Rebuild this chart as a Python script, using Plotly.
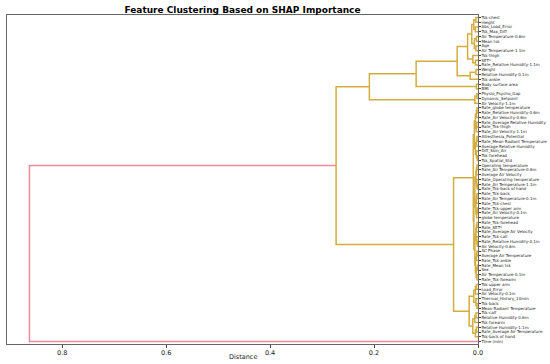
import plotly.graph_objects as go

labels = [
    "Tsk-chest", "Height", "Abs_Load_Error", "Tsk_Max_Diff", "Air Temperature-0.6m",
    "Mean tsk", "Age", "Air Temperature-1.1m", "Tsk-thigh", "SET*",
    "Rate_Relative Humidity-1.1m", "Weight", "Relative Humidity-0.1m", "Tsk-ankle",
    "Body surface area", "BMI", "Physio_Psycho_Gap", "Dynamic_Setpoint",
    "Air Velocity-1.1m", "Rate_globe temperature", "Rate_Relative Humidity-0.6m",
    "Rate_Air Velocity-0.6m", "Rate_Average Relative Humidity", "Rate_Tsk-thigh",
    "Rate_Air Velocity-1.1m", "Alliesthesia_Potential", "Rate_Mean Radiant Temperature",
    "Average Relative Humidity", "Diff_Skin_Air", "Tsk-forehead", "Tsk_Spatial_Std",
    "Operating temperature", "Rate_Air Temperature-0.6m", "Average Air Velocity",
    "Rate_Operating temperature", "Rate_Air Temperature-1.1m", "Rate_Tsk-back of hand",
    "Rate_Tsk-back", "Rate_Air Temperature-0.1m", "Rate_Tsk-chest", "Rate_Tsk-upper arm",
    "Rate_Air Velocity-0.1m", "globe temperature", "Rate_Tsk-forehead", "Rate_SET*",
    "Rate_Average Air Velocity", "Rate_Tsk-calf", "Rate_Relative Humidity-0.1m",
    "Air Velocity-0.6m", "AC Phase", "Average Air Temperature", "Rate_Tsk-ankle",
    "Rate_Mean tsk", "Sex", "Air Temperature-0.1m", "Rate_Tsk-forearm", "Tsk-upper arm",
    "Load_Error", "Air Velocity-0.1m", "Thermal_History_10min", "Tsk-back",
    "Mean Radiant Temperature", "Tsk-calf", "Relative Humidity-0.6m", "Tsk-forearm",
    "Relative Humidity-1.1m", "Rate_Average Air Temperature", "Tsk-back of hand", "Time (min)",
]

# merge distance between each pair of neighbouring leaves (top to bottom)
gap_distance = [
    0.004, 0.008, 0.005, 0.012, 0.003, 0.007, 0.004, 0.020, 0.010, 0.005,
    0.040, 0.004, 0.015, 0.119, 0.003, 0.209, 0.002, 0.006, 0.273,
    0.002, 0.003, 0.005, 0.0025, 0.0035, 0.007, 0.002, 0.003, 0.005, 0.003, 0.0015,
    0.009,
    0.002, 0.003, 0.004, 0.0025, 0.0015, 0.006, 0.002, 0.003, 0.004, 0.0015, 0.0025,
    0.008,
    0.002, 0.003, 0.004, 0.0025, 0.0015, 0.006, 0.002, 0.003, 0.005, 0.0015, 0.0035, 0.002,
    0.047,
    0.003, 0.005, 0.008, 0.004, 0.002, 0.017, 0.004, 0.006, 0.010, 0.003, 0.005,
    0.863,
]

color_threshold = 0.7 * max(gap_distance)
GOLD = "#d4ad3f"
RED = "#f4899c"

n = len(labels)
leaf_y = [5 + 10 * (n - 1 - i) for i in range(n)]

seg = {GOLD: ([], []), RED: ([], [])}


def build(lo, hi):
    """returns (y_center, height) of the subtree spanning leaves lo..hi"""
    if lo == hi:
        return leaf_y[lo], 0.0
    k = max(range(lo, hi), key=lambda j: gap_distance[j])
    h = gap_distance[k]
    ya, ha = build(lo, k)
    yb, hb = build(k + 1, hi)
    col = RED if h > color_threshold else GOLD
    xs, ys = seg[col]
    xs += [ha, h, h, hb, None]
    ys += [ya, ya, yb, yb, None]
    return (ya + yb) / 2, h


build(0, n - 1)

fig = go.Figure()
for col, (xs, ys) in seg.items():
    fig.add_trace(go.Scatter(x=xs, y=ys, mode="lines", line=dict(color=col, width=1.5),
                             hoverinfo="skip", showlegend=False))

xmax = max(gap_distance) * 1.05
fig.update_layout(
    width=550, height=364,
    margin=dict(l=7, r=72, t=15, b=20),
    paper_bgcolor="white", plot_bgcolor="white",
    font=dict(family="DejaVu Sans", color="#222"),
    title=dict(text="<b>Feature Clustering Based on SHAP Importance</b>",
               x=0.5, xref="paper", y=1 - 9.5 / 364, yref="container", yanchor="middle",
               font=dict(size=9, family="DejaVu Sans", color="black")),
    xaxis=dict(range=[xmax, 0], showgrid=False, zeroline=False, automargin=False,
               tickvals=[0.8, 0.6, 0.4, 0.2, 0.0], ticktext=["0.8", "0.6", "0.4", "0.2", "0.0"],
               ticks="outside", ticklen=2.5, tickwidth=0.8, tickcolor="#444",
               tickfont=dict(size=6.5, color="#222"),
               showline=True, linecolor="#666", linewidth=1.2, mirror=True),
    yaxis=dict(range=[0, 10 * n], side="right", showgrid=False, zeroline=False, automargin=False,
               tickvals=leaf_y, ticktext=labels, ticks="outside", ticklen=1.5,
               tickwidth=0.5, tickcolor="#444",
               tickfont=dict(size=4.0, color="#222"),
               showline=True, linecolor="#666", linewidth=1.2, mirror=True),
    annotations=[dict(text="Distance", x=0.5, xref="paper", y=-13 / 329, yref="paper",
                      yanchor="middle", showarrow=False, font=dict(size=6.5, color="#222"))],
)

fig.write_html(
    "out.html",
    config={"displayModeBar": False},
    post_script="document.body.style.margin='0px';document.body.style.overflow='hidden';",
)
